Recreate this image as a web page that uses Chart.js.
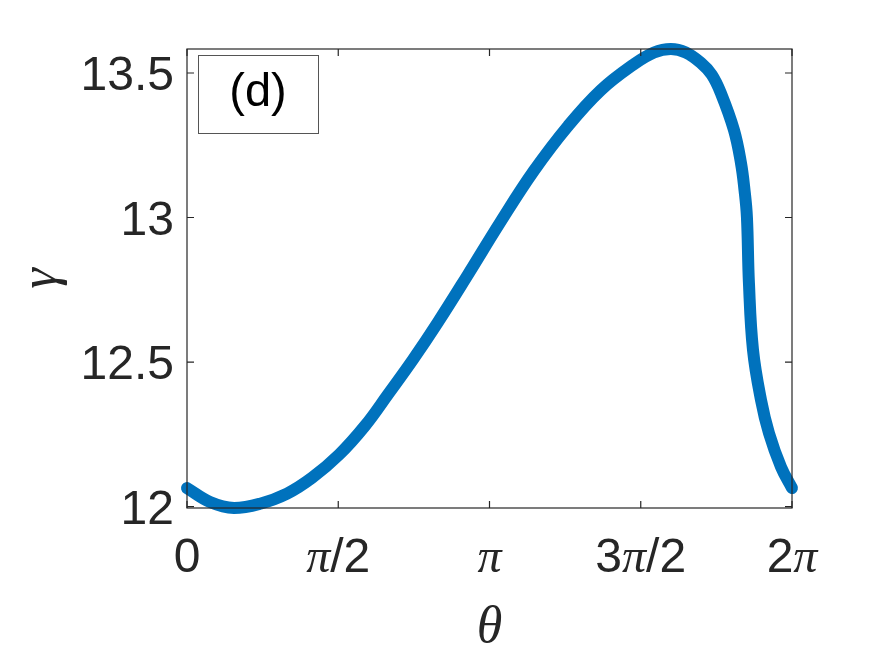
<!DOCTYPE html>
<html>
<head>
<meta charset="utf-8">
<script src="https://cdn.jsdelivr.net/npm/chart.js@4/dist/chart.umd.min.js"></script>
<style>
  html, body { margin: 0; padding: 0; background: #fff; }
  #wrap { width: 875px; height: 656px; }
</style>
</head>
<body>
<div id="wrap"><canvas id="gammaChart" width="875" height="656"></canvas></div>
<script>
// values
const thetaValues = [0.000, 0.239, 0.489, 0.759, 1.040, 1.300, 1.581, 1.850, 2.081, 2.350,
                     2.601, 2.913, 3.256, 3.599, 3.953, 4.296, 4.640, 4.850, 5.025, 5.180,
                     5.337, 5.450, 5.545, 5.680, 5.753, 5.790, 5.815, 5.836, 5.878, 5.961,
                     6.044, 6.169, 6.283];
const gammaValues = [12.064, 12.016, 11.995, 12.010, 12.045, 12.100, 12.180, 12.280, 12.385, 12.510,
                     12.635, 12.800, 12.985, 13.160, 13.315, 13.440, 13.530, 13.571, 13.583, 13.571,
                     13.535, 13.494, 13.430, 13.303, 13.189, 13.095, 13.002, 12.773, 12.542, 12.369,
                     12.254, 12.137, 12.064];

const xTickValues = [0, Math.PI / 2, Math.PI, 3 * Math.PI / 2, 2 * Math.PI];
// each label split in parts: [text, isSymbol]
const xTickLabels = [
    [['0', false]],
    [['π', true], ['/2', false]],
    [['π', true]],
    [['3', false], ['π', true], ['/2', false]],
    [['2', false], ['π', true]]
];
const yTickValues = [12, 12.5, 13, 13.5];
const yTickLabels = ['12', '12.5', '13', '13.5'];

const AXIS_COLOR = '#262626';
const SANS = "'Liberation Sans', Arial, sans-serif";
const SERIF = "'Liberation Serif', 'DejaVu Serif', serif";

// axes box, inward ticks, labels and the (d) tag
const matlabAxes = {
    id: 'matlabAxes',
    afterDraw(chart) {
        const ctx = chart.ctx;
        const a = chart.chartArea;
        const xs = chart.scales.x, ys = chart.scales.y;
        const tick = 7;
        ctx.save();
        ctx.strokeStyle = AXIS_COLOR;
        ctx.lineWidth = 1.2;
        ctx.strokeRect(a.left, a.top, a.right - a.left, a.bottom - a.top);

        ctx.beginPath();
        xTickValues.forEach(v => {
            const px = xs.getPixelForValue(v);
            ctx.moveTo(px, a.bottom); ctx.lineTo(px, a.bottom - tick);
            ctx.moveTo(px, a.top); ctx.lineTo(px, a.top + tick);
        });
        yTickValues.forEach(v => {
            const py = ys.getPixelForValue(v);
            ctx.moveTo(a.left, py); ctx.lineTo(a.left + tick, py);
            ctx.moveTo(a.right, py); ctx.lineTo(a.right - tick, py);
        });
        ctx.stroke();

        ctx.fillStyle = AXIS_COLOR;
        ctx.textBaseline = 'alphabetic';

        // y tick labels
        ctx.font = '48px ' + SANS;
        ctx.textAlign = 'right';
        yTickValues.forEach((v, i) => {
            ctx.fillText(yTickLabels[i], a.left - 13, ys.getPixelForValue(v) + 17);
        });

        // x tick labels (mixed upright / italic symbol)
        ctx.textAlign = 'left';
        const fontFor = sym => sym ? 'italic 48px ' + SERIF : '48px ' + SANS;
        xTickValues.forEach((v, i) => {
            const parts = xTickLabels[i];
            let w = 0;
            parts.forEach(p => { ctx.font = fontFor(p[1]); w += ctx.measureText(p[0]).width; });
            let x = xs.getPixelForValue(v) - w / 2;
            parts.forEach(p => {
                ctx.font = fontFor(p[1]);
                ctx.fillText(p[0], x, a.bottom + 64);
                x += ctx.measureText(p[0]).width;
            });
        });

        // axis titles
        ctx.textAlign = 'center';
        ctx.font = 'italic 52px ' + SERIF;
        ctx.fillText('θ', (a.left + a.right) / 2, 642);
        ctx.save();
        ctx.translate(56, (a.top + a.bottom) / 2);
        ctx.rotate(-Math.PI / 2);
        ctx.fillText('γ', 0, 0);
        ctx.restore();

        // panel tag
        ctx.fillStyle = '#fff';
        ctx.fillRect(198, 55, 120, 78);
        ctx.strokeStyle = '#555';
        ctx.lineWidth = 1;
        ctx.strokeRect(198.5, 55.5, 120, 78);
        ctx.fillStyle = '#000';
        ctx.font = '47px ' + SANS;
        ctx.fillText('(d)', 258, 106);
        ctx.restore();
    }
};

const ctx = document.getElementById('gammaChart').getContext('2d');
new Chart(ctx, {
    type: 'line',
    data: {
        datasets: [{
            data: thetaValues.map((t, i) => ({ x: t, y: gammaValues[i] })),
            borderColor: '#0072BD',
            borderWidth: 12,
            borderCapStyle: 'round',
            borderJoinStyle: 'round',
            pointRadius: 0,
            tension: 0.4,
            fill: false,
            clip: false
        }]
    },
    options: {
        responsive: false,
        animation: false,
        layout: { padding: { left: 187, right: 83, top: 49, bottom: 148 } },
        scales: {
            x: { type: 'linear', min: 0, max: 2 * Math.PI, display: false },
            y: { type: 'linear', min: 11.995, max: 13.583, display: false }
        },
        plugins: {
            legend: { display: false },
            tooltip: { enabled: false }
        }
    },
    plugins: [matlabAxes]
});
</script>
</body>
</html>
